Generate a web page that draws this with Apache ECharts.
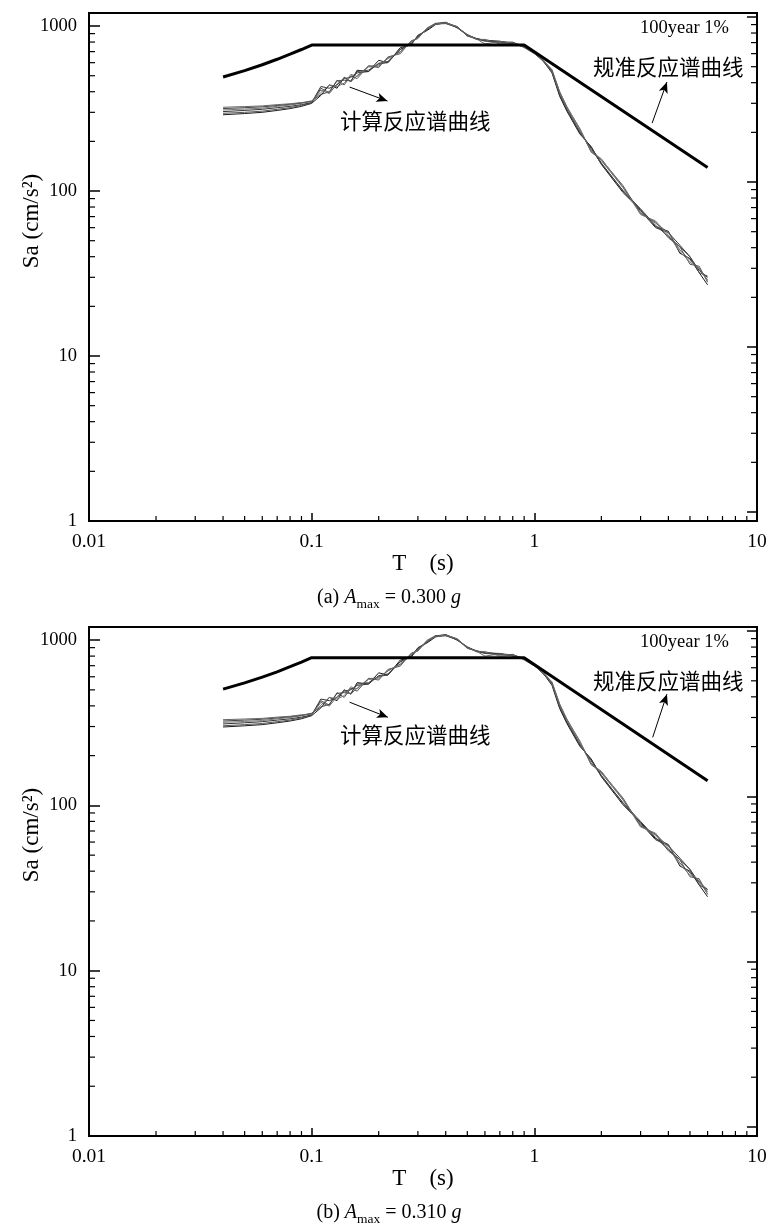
<!DOCTYPE html>
<html>
<head>
<meta charset="utf-8">
<title>反应谱</title>
<script src="https://cdn.jsdelivr.net/npm/echarts@6/dist/echarts.min.js"></script>
<style>
  html, body { margin: 0; padding: 0; background: #fff; }
  #main { width: 771px; height: 1224px; }
</style>
</head>
<body>
<div id="main"></div>
<script>
// 周期 T (s)
const periods = [0.04, 0.05, 0.06, 0.07, 0.08, 0.09, 0.1, 0.11, 0.12, 0.13, 0.14, 0.15, 0.16, 0.18,
  0.2, 0.22, 0.25, 0.28, 0.3, 0.33, 0.36, 0.4, 0.45, 0.5, 0.55, 0.6, 0.7, 0.8,
  0.9, 1.0, 1.1, 1.2, 1.3, 1.4, 1.6, 1.8, 2.0, 2.5, 3.0, 3.5, 4.0, 4.5, 5.0, 5.5, 6.0];

// 规准反应谱曲线
const codeT = [0.04, 0.05, 0.06, 0.07, 0.08, 0.09, 0.1, 0.9, 6];
const codeA = [491, 537, 583, 629, 675, 721, 767, 767, 139];
const codeB = [505, 551, 597, 643, 690, 736, 782, 782, 141];

// 计算反应谱曲线 (a) Amax = 0.300 g
const calcA1 = [290, 295, 300, 308, 316, 326, 340, 380, 440, 420, 490, 460, 540, 530, 620, 600, 740, 770, 880, 940, 1020, 1050, 990, 870, 840, 815, 810, 780, 750, 690, 610, 520, 375, 305, 222, 186, 145, 98, 77, 61, 57, 42, 39, 32, 27];
const calcA2 = [296, 300, 305, 313, 320, 330, 342, 420, 395, 470, 440, 500, 480, 575, 560, 650, 680, 815, 840, 975, 1040, 1040, 980, 890, 830, 830, 790, 800, 740, 680, 620, 540, 400, 325, 238, 172, 155, 108, 73, 65, 52, 46, 36, 35, 28];
const calcA3 = [303, 308, 313, 320, 326, 334, 344, 430, 420, 440, 480, 490, 520, 530, 595, 610, 720, 780, 860, 950, 1035, 1055, 975, 885, 840, 820, 805, 795, 755, 685, 612, 530, 380, 310, 226, 184, 148, 100, 76, 60, 56, 47, 40, 33, 30];
const calcA4 = [310, 314, 318, 326, 332, 340, 350, 395, 440, 430, 450, 510, 495, 565, 570, 640, 695, 800, 845, 970, 1025, 1045, 995, 875, 830, 825, 780, 790, 745, 695, 618, 545, 398, 322, 240, 174, 157, 106, 72, 66, 54, 43, 37, 34, 28.5];
const calcA5 = [316, 320, 324, 330, 336, 342, 352, 385, 400, 465, 470, 465, 530, 540, 590, 600, 725, 785, 870, 955, 1030, 1035, 985, 880, 835, 810, 800, 785, 750, 688, 608, 535, 385, 312, 228, 181, 146, 101, 78, 62, 53, 46, 40, 32, 30.5];
const calcA6 = [322, 325, 328, 334, 338, 344, 348, 410, 390, 445, 485, 460, 500, 570, 580, 635, 700, 805, 850, 960, 1030, 1045, 990, 880, 835, 780, 805, 790, 745, 690, 615, 530, 392, 318, 232, 176, 153, 105, 74, 64, 56, 44, 38, 34, 29];

// 计算反应谱曲线 (b) Amax = 0.310 g
const calcB1 = [298, 303, 308, 316, 324, 334, 349, 389, 450, 430, 501, 471, 553, 542, 634, 614, 757, 788, 900, 962, 1044, 1076, 1015, 892, 861, 835, 830, 800, 769, 707, 625, 533, 385, 313, 228, 191, 149, 101, 79, 63, 58, 43, 40, 33, 28];
const calcB2 = [303, 308, 313, 321, 328, 338, 351, 430, 404, 481, 450, 512, 491, 588, 573, 665, 696, 834, 859, 998, 1064, 1066, 1004, 912, 851, 851, 810, 820, 758, 697, 635, 553, 410, 333, 244, 176, 159, 111, 75, 67, 53, 47, 37, 36, 29];
const calcB3 = [311, 316, 321, 328, 334, 342, 353, 440, 430, 450, 491, 501, 532, 542, 609, 624, 737, 798, 880, 972, 1059, 1081, 999, 907, 861, 840, 825, 815, 774, 702, 627, 543, 390, 318, 232, 189, 152, 103, 78, 62, 57, 48, 41, 34, 31];
const calcB4 = [318, 322, 326, 334, 340, 348, 359, 404, 450, 440, 461, 522, 507, 578, 583, 655, 711, 819, 865, 993, 1049, 1071, 1020, 897, 851, 846, 800, 810, 764, 712, 633, 559, 408, 330, 246, 178, 161, 109, 74, 68, 55, 44, 38, 35, 29];
const calcB5 = [324, 328, 332, 338, 344, 351, 361, 394, 409, 476, 481, 476, 542, 553, 604, 614, 742, 803, 890, 977, 1054, 1061, 1010, 902, 856, 830, 820, 805, 769, 705, 623, 548, 395, 320, 234, 186, 150, 104, 80, 64, 54, 47, 41, 33, 31];
const calcB6 = [330, 333, 336, 342, 346, 353, 357, 420, 399, 455, 496, 471, 512, 583, 593, 650, 716, 824, 870, 982, 1054, 1071, 1015, 902, 856, 800, 825, 810, 764, 707, 630, 543, 402, 326, 238, 180, 157, 108, 76, 66, 57, 45, 39, 35, 30];

// 次刻度
const xMinor = [0.02, 0.03, 0.04, 0.05, 0.06, 0.07, 0.08, 0.09, 0.2, 0.3, 0.4, 0.5, 0.6, 0.7, 0.8, 0.9, 2, 3, 4, 5, 6, 7, 8, 9];
const yMinor = [2, 3, 4, 5, 6, 7, 8, 9, 20, 30, 40, 50, 60, 70, 80, 90, 200, 300, 400, 500, 600, 700, 800, 900];

// 箭头 [起点T, 起点Sa, 终点T, 终点Sa]
const arrowCalcA = [0.148, 427, 0.219, 351];
const arrowCodeA = [3.38, 258, 3.94, 458];
const arrowCalcB = [0.148, 421, 0.22, 341];
const arrowCodeB = [3.4, 258, 3.94, 471];

const calcColors = ["#1a1a1a", "#555", "#333", "#777", "#444", "#666"];
const serif = "'Liberation Serif', 'Times New Roman', serif";
const cjk = "'Noto Sans CJK SC', sans-serif";

const chart = echarts.init(document.getElementById("main"));

const isPow10 = (v) => {
	const e = Math.log10(v);
	return Math.abs(e - Math.round(e)) < 1e-6;
};

const xAxisOf = (gridIndex) => ({
	type: "log",
	logBase: 10,
	gridIndex: gridIndex,
	min: 0.01,
	max: 10,
	name: "T    (s)",
	nameLocation: "middle",
	nameGap: 30,
	nameTextStyle: { fontFamily: serif, fontSize: 23, color: "#000" },
	axisLine: { show: true, lineStyle: { color: "#000", width: 2 } },
	axisTick: { show: true, inside: true, length: 8, lineStyle: { color: "#000", width: 1.5 } },
	axisLabel: {
		margin: 11,
		fontFamily: serif,
		fontSize: 19.5,
		color: "#000",
		formatter: (v) => (isPow10(v) ? String(parseFloat(v.toPrecision(6))) : "")
	},
	splitLine: { show: false }
});

const yLeftOf = (gridIndex) => ({
	type: "log",
	logBase: 10,
	gridIndex: gridIndex,
	position: "left",
	min: 1,
	max: 1200,
	axisLine: { show: true, lineStyle: { color: "#000", width: 2 } },
	axisTick: { show: true, inside: true, length: 11, lineStyle: { color: "#000", width: 1.5 } },
	axisLabel: {
		margin: 12,
		fontFamily: serif,
		fontSize: 18.5,
		color: "#000",
		showMaxLabel: false,
		formatter: (v) => (isPow10(v) ? String(Math.round(v)) : "")
	},
	splitLine: { show: false }
});

// 右侧坐标轴 (原图中略有偏移)
const yRightOf = (gridIndex) => ({
	type: "log",
	logBase: 10,
	gridIndex: gridIndex,
	position: "right",
	min: 0.882,
	max: 1058,
	axisLine: { show: true, lineStyle: { color: "#000", width: 2 } },
	axisTick: { show: true, inside: true, length: 10, lineStyle: { color: "#000", width: 1.5 } },
	axisLabel: { show: false },
	splitLine: { show: false }
});

// 次刻度用 custom series 画
const minorTicks = (xi, yi, side, values, len) => ({
	type: "custom",
	xAxisIndex: xi,
	yAxisIndex: yi,
	silent: true,
	clip: false,
	z: 5,
	data: values.map((v) => (side === "bottom" ? [v, 1] : [1, v])),
	renderItem: (params, api) => {
		const cs = params.coordSys;
		let shape;
		if (side === "bottom") {
			const x = api.coord([api.value(0), api.value(1)])[0];
			const y = cs.y + cs.height;
			shape = { x1: x, y1: y, x2: x, y2: y - len };
		} else {
			const y = api.coord([api.value(0), api.value(1)])[1];
			const x = side === "left" ? cs.x : cs.x + cs.width;
			shape = { x1: x, y1: y, x2: side === "left" ? x + len : x - len, y2: y };
		}
		return { type: "line", shape: shape, style: { stroke: "#000", lineWidth: 1.2 } };
	}
});

const calcSeries = (xi, yi, list) =>
	list.map((arr, k) => ({
		name: "计算反应谱曲线",
		type: "line",
		xAxisIndex: xi,
		yAxisIndex: yi,
		data: periods.map((t, i) => [t, arr[i]]),
		showSymbol: false,
		symbol: "none",
		silent: true,
		lineStyle: { color: calcColors[k], width: 1 },
		z: 3
	}));

const arrowLine = (a) => [{ coord: [a[0], a[1]] }, { coord: [a[2], a[3]] }];

const codeSeries = (xi, yi, vals, arrows) => ({
	name: "规准反应谱曲线",
	type: "line",
	xAxisIndex: xi,
	yAxisIndex: yi,
	data: codeT.map((t, i) => [t, vals[i]]),
	showSymbol: false,
	symbol: "none",
	silent: true,
	lineStyle: { color: "#000", width: 3 },
	z: 4,
	markLine: {
		silent: true,
		symbol: ["none", "arrow"],
		symbolSize: [7, 11],
		label: { show: false },
		lineStyle: { color: "#000", width: 1, type: "solid" },
		data: arrows.map(arrowLine)
	}
});

const caption = (y, letter, amax) => ({
	type: "text",
	x: 389,
	y: y,
	style: {
		text: "(" + letter + ") {i|A}{s|max} = " + amax + " {i|g}",
		fontFamily: serif,
		fontSize: 20,
		fill: "#000",
		align: "center",
		verticalAlign: "middle",
		rich: {
			i: { fontFamily: serif, fontSize: 20, fontStyle: "italic", lineHeight: 26 },
			s: { fontFamily: serif, fontSize: 13.5, lineHeight: 15, verticalAlign: "bottom" }
		}
	}
});

const plainText = (x, y, text, font, size, align) => ({
	type: "text",
	x: x,
	y: y,
	style: { text: text, fontFamily: font, fontSize: size, fill: "#000", align: align || "left", verticalAlign: "middle" }
});

const yTitle = (y) => ({
	type: "text",
	x: 32,
	y: y,
	rotation: Math.PI / 2,
	style: { text: "Sa (cm/s²)", fontFamily: serif, fontSize: 23, fill: "#000", align: "center", verticalAlign: "middle" }
});

const option = {
	animation: false,
	backgroundColor: "#fff",
	grid: [
		{ left: 89, top: 13, width: 668, height: 508, show: true, borderColor: "#000", borderWidth: 2, backgroundColor: "transparent" },
		{ left: 89, top: 627, width: 668, height: 509, show: true, borderColor: "#000", borderWidth: 2, backgroundColor: "transparent" }
	],
	xAxis: [xAxisOf(0), xAxisOf(1)],
	yAxis: [yLeftOf(0), yRightOf(0), yLeftOf(1), yRightOf(1)],
	series: [
		...calcSeries(0, 0, [calcA1, calcA2, calcA3, calcA4, calcA5, calcA6]),
		codeSeries(0, 0, codeA, [arrowCalcA, arrowCodeA]),
		minorTicks(0, 0, "bottom", xMinor, 5),
		minorTicks(0, 0, "left", yMinor, 6),
		minorTicks(0, 1, "right", yMinor, 6),
		...calcSeries(1, 2, [calcB1, calcB2, calcB3, calcB4, calcB5, calcB6]),
		codeSeries(1, 2, codeB, [arrowCalcB, arrowCodeB]),
		minorTicks(1, 2, "bottom", xMinor, 5),
		minorTicks(1, 2, "left", yMinor, 6),
		minorTicks(1, 3, "right", yMinor, 6)
	],
	graphic: [
		yTitle(221),
		yTitle(835),
		plainText(640, 28, "100year 1%", serif, 18.5),
		plainText(593, 67, "规准反应谱曲线", cjk, 21.5),
		plainText(340, 121, "计算反应谱曲线", cjk, 21.5),
		plainText(640, 642, "100year 1%", serif, 18.5),
		plainText(593, 681, "规准反应谱曲线", cjk, 21.5),
		plainText(340, 735, "计算反应谱曲线", cjk, 21.5),
		caption(598, "a", "0.300"),
		caption(1213, "b", "0.310")
	]
};

chart.setOption(option);
</script>
</body>
</html>
